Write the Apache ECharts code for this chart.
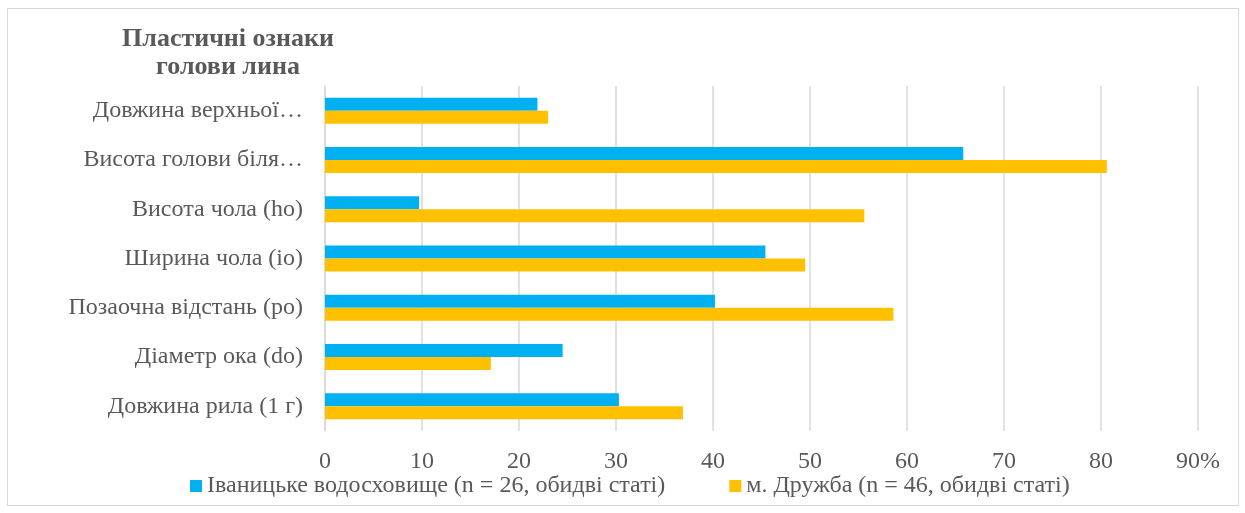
<!DOCTYPE html>
<html><head><meta charset="utf-8">
<script src="https://cdn.jsdelivr.net/npm/echarts@6/dist/echarts.min.js"></script>
<style>html,body{margin:0;padding:0;background:#fff}#c{width:1245px;height:513px}
#frame{position:absolute;left:7px;top:8px;width:1230px;height:496px;border:1px solid #d9d9d9;pointer-events:none}</style>
</head><body><div id="c"></div><div id="frame"></div>
<script>
const categories = ["Довжина верхньої…","Висота голови біля…","Висота чола (ho)","Ширина чола (io)","Позаочна відстань (po)","Діаметр ока (do)","Довжина рила (1 г)"];
const seriesNames = ["Іваницьке водосховище (n = 26, обидві статі)","м. Дружба (n = 46, обидві статі)"];
const ivanytske = [21.9, 65.8, 9.7, 45.4, 40.2, 24.5, 30.3];
const druzhba = [23.0, 80.6, 55.6, 49.5, 58.6, 17.1, 36.9];
const titleText = "Пластичні ознаки\nголови лина";

const font = "Liberation Serif";
const chart = echarts.init(document.getElementById('c'));
chart.setOption({
  animation:false,
  title:{text:titleText,left:223,top:20,textAlign:'center',
    textStyle:{fontFamily:font,fontSize:26,fontWeight:'bold',color:'#595959',lineHeight:28}},
  legend:{top:469,left:185,itemWidth:12,itemHeight:12,itemGap:64,icon:'rect',
    textStyle:{fontFamily:font,fontSize:24,color:'#595959'}},
  grid:{left:325,right:47,top:86,bottom:82,containLabel:false},
  xAxis:{type:'value',min:0,max:90,interval:10,
    axisLine:{show:false},axisTick:{show:false},
    splitLine:{lineStyle:{color:'#d9d9d9',width:1.5}},
    axisLabel:{margin:19,fontFamily:font,fontSize:24,color:'#595959',
      formatter:v=>v===90?'90%':String(v)}},
  yAxis:{type:'category',data:categories,inverse:true,
    axisLine:{lineStyle:{color:'#d9d9d9',width:1.5}},axisTick:{show:false},
    axisLabel:{margin:22,fontFamily:font,fontSize:24,color:'#595959'}},
  series:[
    {name:seriesNames[0],type:'bar',data:ivanytske,barWidth:13,barGap:'0%',
     itemStyle:{color:'#00B0F0'}},
    {name:seriesNames[1],type:'bar',data:druzhba,barWidth:13,barGap:'0%',
     itemStyle:{color:'#FFC000'}}
  ]
});
</script></body></html>
